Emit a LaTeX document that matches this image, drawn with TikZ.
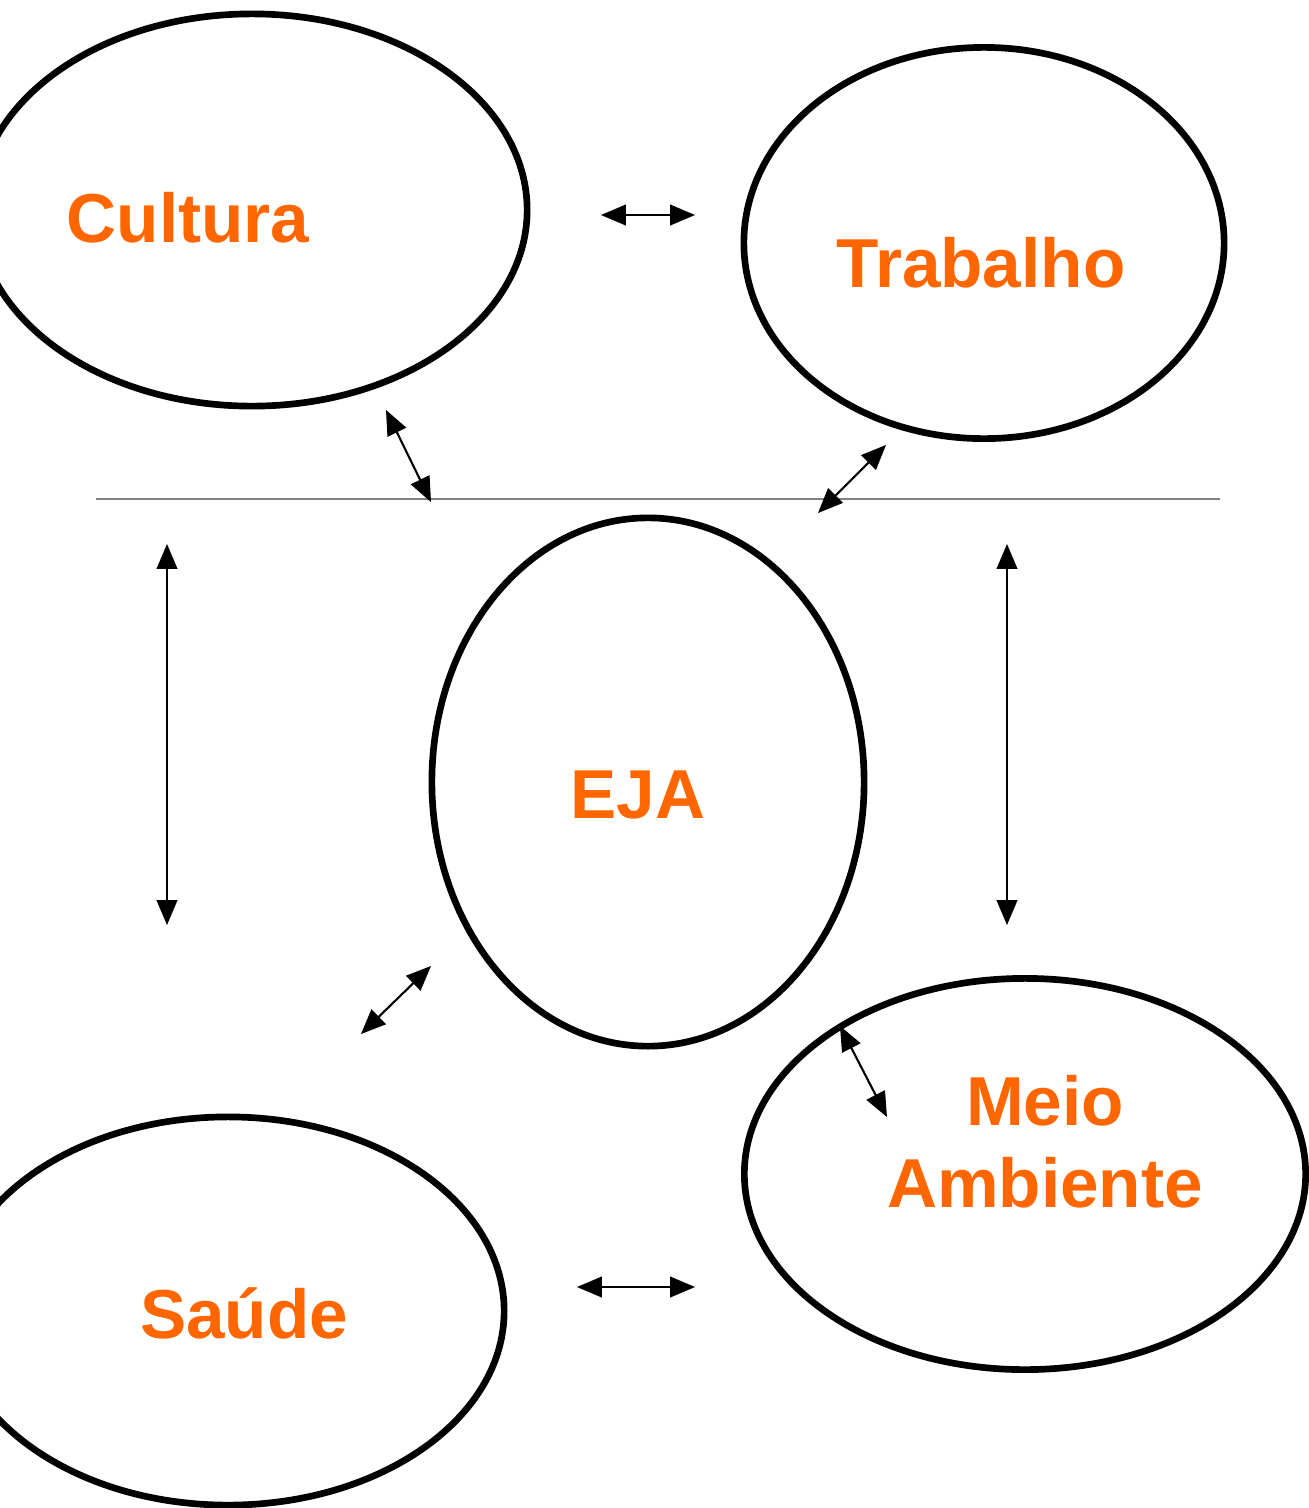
\documentclass[tikz,border=0pt]{standalone}
\usepackage{fontspec}
\setmainfont{Liberation Sans}
\usetikzlibrary{arrows,shapes.geometric}
\definecolor{laranja}{HTML}{FF6600}

\begin{document}
\begin{tikzpicture}[x=0.01cm,y=-0.01cm,>=triangle 45]
    \tikzstyle{tema}=[draw,ellipse,line width=1.9pt,inner sep=0pt]
    \tikzstyle{rotulo}=[text=laranja,font=\fontsize{19.7}{23.3}\selectfont\bfseries,inner sep=0pt,anchor=base]
    \tikzstyle{liga}=[<->,line width=0.6pt]
    \useasboundingbox (0,0) rectangle (1309,1508);
    % the five themes
    \node[tema,minimum width=5.50cm,minimum height=3.92cm] (cultura) at (252,210) {};
    \node[tema,minimum width=4.80cm,minimum height=3.91cm] (trabalho) at (984,243) {};
    \node[tema,minimum width=4.32cm,minimum height=5.28cm] (eja) at (648,782) {};
    \node[tema,minimum width=5.61cm,minimum height=3.91cm] (meio) at (1025,1174) {};
    \node[tema,minimum width=5.52cm,minimum height=3.88cm] (saude) at (228,1311) {};
    \node[rotulo] (tcultura) at (188,242) {Cultura};
    \node[rotulo] (ttrabalho) at (981,287) {Trabalho};
    \node[rotulo] (teja) at (638,818) {EJA};
    \node[rotulo,align=center] (tmeio) at (1045,1207) {Meio\\Ambiente};% base = last line
    \node[rotulo] (tsaude) at (244,1338) {Saúde};
    % the dividing line
    \coordinate (la) at (96,499);
    \coordinate (lb) at (1220,499);
    \draw[gray,line width=0.4pt] (la) -- (lb);
    % arrow ends
    \coordinate (a1) at (601,215);  \coordinate (b1) at (695,215);
    \coordinate (a2) at (386,410);  \coordinate (b2) at (431,502);
    \coordinate (a3) at (886,445);  \coordinate (b3) at (818,513);
    \coordinate (a4) at (167,544);  \coordinate (b4) at (167,925);
    \coordinate (a5) at (1007,544); \coordinate (b5) at (1007,925);
    \coordinate (a6) at (431,966);  \coordinate (b6) at (361,1034);
    \coordinate (a7) at (840,1026); \coordinate (b7) at (887,1117);
    \coordinate (a8) at (577,1287); \coordinate (b8) at (695,1287);
    \foreach \i in {1,...,8}
      \draw[liga] (a\i) -- (b\i);
\end{tikzpicture}
\end{document}
